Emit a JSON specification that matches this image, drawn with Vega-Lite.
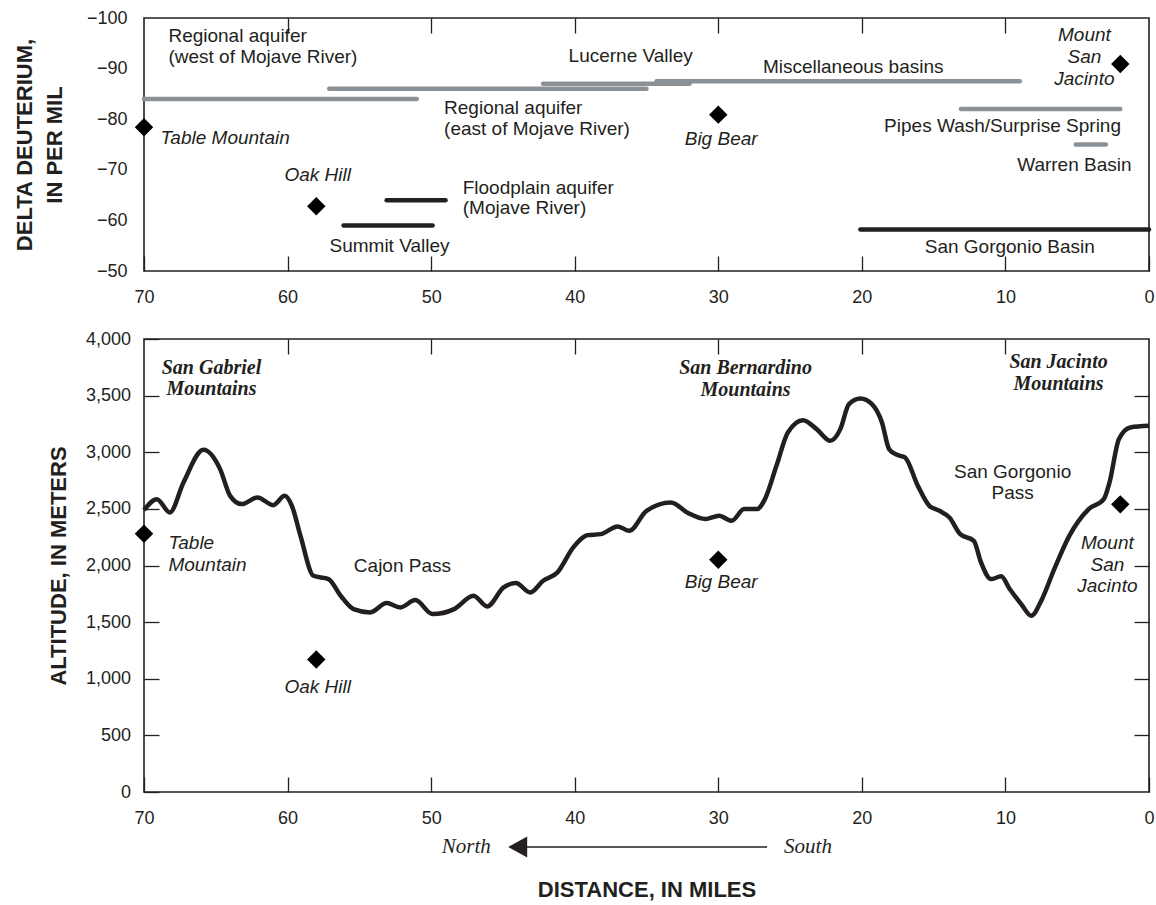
{
  "$schema": "https://vega.github.io/schema/vega-lite/v6.json",
  "padding": {"left": 12, "top": 8, "right": 0, "bottom": 0},
  "background": "white",
  "spacing": 22,
  "config": {
    "view": {"stroke": "#231f20", "strokeWidth": 1.6},
    "axis": {
      "grid": false, "domain": false,
      "labelFont": "Liberation Sans", "labelFontSize": 18, "labelColor": "#231f20",
      "titleFont": "Liberation Sans", "titleFontSize": 22, "titleFontWeight": "bold", "titleColor": "#231f20",
      "tickColor": "#231f20", "tickWidth": 1.3, "labelFlush": false, "labelOverlap": false
    },
    "text": {"font": "Liberation Sans", "fontSize": 19, "fill": "#231f20"}
  },
  "datasets": {
    "segments": [
      {"unit": "Regional aquifer (west of Mojave River)", "from": 70, "to": 51, "dd": -84, "group": "regional"},
      {"unit": "Regional aquifer (east of Mojave River)", "from": 57.1, "to": 35, "dd": -86, "group": "regional"},
      {"unit": "Lucerne Valley", "from": 42.2, "to": 32, "dd": -87, "group": "regional"},
      {"unit": "Miscellaneous basins", "from": 34.3, "to": 9, "dd": -87.5, "group": "regional"},
      {"unit": "Pipes Wash/Surprise Spring", "from": 13.1, "to": 2, "dd": -82, "group": "regional"},
      {"unit": "Warren Basin", "from": 5.1, "to": 3, "dd": -75, "group": "regional"},
      {"unit": "Floodplain aquifer (Mojave River)", "from": 53.1, "to": 49, "dd": -64, "group": "local"},
      {"unit": "Summit Valley", "from": 56.1, "to": 49.9, "dd": -59, "group": "local"},
      {"unit": "San Gorgonio Basin", "from": 20.1, "to": 0, "dd": -58.2, "group": "local"}
    ],
    "sites": [
      {"site": "Table Mountain", "miles": 70, "dd": -78.4, "alt": 2280},
      {"site": "Oak Hill", "miles": 58, "dd": -62.8, "alt": 1170},
      {"site": "Big Bear", "miles": 30, "dd": -80.9, "alt": 2050},
      {"site": "Mount San Jacinto", "miles": 2, "dd": -90.9, "alt": 2540}
    ],
    "profile": [
      {"miles": 70, "alt": 2490}, {"miles": 69.1, "alt": 2586}, {"miles": 68.2, "alt": 2468},
      {"miles": 67.25, "alt": 2733}, {"miles": 65.86, "alt": 3021}, {"miles": 64.7, "alt": 2851},
      {"miles": 64.0, "alt": 2615}, {"miles": 63.2, "alt": 2542}, {"miles": 62.1, "alt": 2601},
      {"miles": 61.0, "alt": 2533}, {"miles": 60.2, "alt": 2615}, {"miles": 59.7, "alt": 2527},
      {"miles": 59.1, "alt": 2262}, {"miles": 58.2, "alt": 1909}, {"miles": 57.15, "alt": 1880},
      {"miles": 56.3, "alt": 1733}, {"miles": 55.4, "alt": 1615}, {"miles": 54.25, "alt": 1586},
      {"miles": 53.1, "alt": 1668}, {"miles": 52.15, "alt": 1630}, {"miles": 51.1, "alt": 1695},
      {"miles": 49.9, "alt": 1571}, {"miles": 48.4, "alt": 1615}, {"miles": 47.05, "alt": 1733},
      {"miles": 46.1, "alt": 1639}, {"miles": 44.95, "alt": 1807}, {"miles": 44.1, "alt": 1845},
      {"miles": 43.1, "alt": 1762}, {"miles": 42.2, "alt": 1865}, {"miles": 41.2, "alt": 1939},
      {"miles": 40.1, "alt": 2160}, {"miles": 39.1, "alt": 2268}, {"miles": 38.2, "alt": 2277},
      {"miles": 37.0, "alt": 2345}, {"miles": 36.2, "alt": 2306}, {"miles": 35.0, "alt": 2483},
      {"miles": 33.3, "alt": 2557}, {"miles": 32.1, "alt": 2463}, {"miles": 30.9, "alt": 2410},
      {"miles": 29.95, "alt": 2439}, {"miles": 29.07, "alt": 2395}, {"miles": 28.2, "alt": 2498},
      {"miles": 27.3, "alt": 2498}, {"miles": 26.75, "alt": 2586}, {"miles": 25.95, "alt": 2880},
      {"miles": 25.15, "alt": 3175}, {"miles": 24.1, "alt": 3283}, {"miles": 23.15, "alt": 3204},
      {"miles": 22.2, "alt": 3101}, {"miles": 21.5, "alt": 3204}, {"miles": 20.9, "alt": 3425},
      {"miles": 20.1, "alt": 3475}, {"miles": 19.3, "alt": 3425}, {"miles": 18.6, "alt": 3263},
      {"miles": 18.1, "alt": 3027}, {"miles": 17.55, "alt": 2977}, {"miles": 17.0, "alt": 2954},
      {"miles": 16.1, "alt": 2703}, {"miles": 15.3, "alt": 2527}, {"miles": 14.6, "alt": 2483},
      {"miles": 13.9, "alt": 2424}, {"miles": 13.15, "alt": 2277}, {"miles": 12.2, "alt": 2218},
      {"miles": 11.7, "alt": 2027}, {"miles": 11.0, "alt": 1880}, {"miles": 10.3, "alt": 1904},
      {"miles": 9.7, "alt": 1792}, {"miles": 8.9, "alt": 1659}, {"miles": 8.2, "alt": 1556},
      {"miles": 7.5, "alt": 1690}, {"miles": 6.6, "alt": 1968}, {"miles": 5.55, "alt": 2262},
      {"miles": 4.2, "alt": 2498}, {"miles": 3.15, "alt": 2586}, {"miles": 2.75, "alt": 2733},
      {"miles": 2.1, "alt": 3115}, {"miles": 1.3, "alt": 3219}, {"miles": 0, "alt": 3233}
    ],
    "topLabelsLeft": [
      {"label": "Regional aquifer\n(west of Mojave River)", "miles": 68.3, "dd": -96.36},
      {"label": "Regional aquifer\n(east of Mojave River)", "miles": 49.1, "dd": -82.19},
      {"label": "Floodplain aquifer\n(Mojave River)", "miles": 47.8, "dd": -66.48}
    ],
    "topLabelsCenter": [
      {"label": "Lucerne Valley", "miles": 36.1, "dd": -92.4},
      {"label": "Miscellaneous basins", "miles": 20.6, "dd": -90.4},
      {"label": "Pipes Wash/Surprise Spring", "miles": 10.2, "dd": -78.6},
      {"label": "Warren Basin", "miles": 5.2, "dd": -71},
      {"label": "San Gorgonio Basin", "miles": 9.7, "dd": -54.7},
      {"label": "Summit Valley", "miles": 52.9, "dd": -54.9}
    ],
    "topLabelsItalic": [
      {"label": "Table Mountain", "miles": 64.35, "dd": -76.3},
      {"label": "Oak Hill", "miles": 57.9, "dd": -68.9},
      {"label": "Big Bear", "miles": 29.8, "dd": -76.1},
      {"label": "Mount\nSan\nJacinto", "miles": 4.5, "dd": -96.56}
    ],
    "ranges": [
      {"label": "San Gabriel\nMountains", "miles": 65.3, "alt": 3748},
      {"label": "San Bernardino\nMountains", "miles": 28.1, "alt": 3742},
      {"label": "San Jacinto\nMountains", "miles": 6.3, "alt": 3793}
    ],
    "bottomItalicLeft": [
      {"label": "Table\nMountain", "miles": 68.3, "alt": 2198}
    ],
    "bottomItalicCenter": [
      {"label": "Oak Hill", "miles": 57.9, "alt": 924},
      {"label": "Big Bear", "miles": 29.8, "alt": 1851},
      {"label": "Mount\nSan\nJacinto", "miles": 2.9, "alt": 2198}
    ],
    "bottomCenter": [
      {"label": "Cajon Pass", "miles": 52.0, "alt": 1997},
      {"label": "San Gorgonio\nPass", "miles": 9.5, "alt": 2827}
    ],
    "directions": [
      {"label": "North", "miles": 47.55, "alt": -485},
      {"label": "South", "miles": 23.75, "alt": -485}
    ],
    "arrow": [
      {"from": 43.5, "to": 26.6, "alt": -485}
    ],
    "arrowHead": [
      {"miles": 43.97, "alt": -485}
    ]
  },
  "vconcat": [
    {
      "width": 1005,
      "height": 253,
      "layer": [
        {
          "data": {"name": "segments"},
          "mark": {"type": "rule", "strokeWidth": 4.5, "strokeCap": "round"},
          "encoding": {
            "x": {"field": "from", "type": "quantitative",
                  "scale": {"domain": [0, 70], "reverse": true, "nice": false, "zero": false},
                  "axis": {"orient": "bottom", "values": [0, 10, 20, 30, 40, 50, 60, 70], "tickSize": -15, "labelPadding": 32, "title": null}},
            "x2": {"field": "to"},
            "y": {"field": "dd", "type": "quantitative",
                  "scale": {"domain": [-100, -50], "reverse": true, "nice": false, "zero": false},
                  "axis": {"orient": "left", "values": [-100, -90, -80, -70, -60, -50], "tickSize": 0, "labelPadding": 17,
                           "title": ["DELTA DEUTERIUM,", "IN PER MIL"], "titlePadding": 20, "titleLineHeight": 30}},
            "color": {"field": "group", "type": "nominal",
                      "scale": {"domain": ["regional", "local"], "range": ["#8a9298", "#231f20"]}, "legend": null}
          }
        },
        {
          "data": {"name": "sites"},
          "mark": {"type": "point", "shape": "diamond", "filled": true, "size": 340, "color": "#000000", "opacity": 1},
          "encoding": {
            "x": {"field": "miles", "type": "quantitative",
                  "scale": {"domain": [0, 70], "reverse": true, "nice": false, "zero": false},
                  "axis": {"orient": "top", "values": [10, 20, 30, 40, 50, 60], "labels": false, "tickSize": -15, "title": null}},
            "y": {"field": "dd", "type": "quantitative",
                  "scale": {"domain": [-100, -50], "reverse": true, "nice": false, "zero": false},
                  "axis": {"orient": "right", "values": [-90], "labels": false, "tickSize": 0, "title": null}}
          }
        },
        {
          "data": {"name": "topLabelsLeft"},
          "mark": {"type": "text", "align": "left", "baseline": "middle", "lineBreak": "\n", "lineHeight": 20.7},
          "encoding": {
            "x": {"field": "miles", "type": "quantitative", "scale": {"domain": [0, 70], "reverse": true, "nice": false, "zero": false}, "axis": null},
            "y": {"field": "dd", "type": "quantitative", "scale": {"domain": [-100, -50], "reverse": true, "nice": false, "zero": false}, "axis": null},
            "text": {"field": "label"}
          }
        },
        {
          "data": {"name": "topLabelsCenter"},
          "mark": {"type": "text", "align": "center", "baseline": "middle"},
          "encoding": {
            "x": {"field": "miles", "type": "quantitative", "scale": {"domain": [0, 70], "reverse": true, "nice": false, "zero": false}, "axis": null},
            "y": {"field": "dd", "type": "quantitative", "scale": {"domain": [-100, -50], "reverse": true, "nice": false, "zero": false}, "axis": null},
            "text": {"field": "label"}
          }
        },
        {
          "data": {"name": "topLabelsItalic"},
          "mark": {"type": "text", "align": "center", "baseline": "middle", "fontStyle": "italic", "lineBreak": "\n", "lineHeight": 21.8},
          "encoding": {
            "x": {"field": "miles", "type": "quantitative", "scale": {"domain": [0, 70], "reverse": true, "nice": false, "zero": false}, "axis": null},
            "y": {"field": "dd", "type": "quantitative", "scale": {"domain": [-100, -50], "reverse": true, "nice": false, "zero": false}, "axis": null},
            "text": {"field": "label"}
          }
        }
      ]
    },
    {
      "width": 1005,
      "height": 453,
      "layer": [
        {
          "data": {"name": "profile"},
          "mark": {"type": "line", "color": "#231f20", "strokeWidth": 4.5, "interpolate": "monotone", "strokeJoin": "round"},
          "encoding": {
            "x": {"field": "miles", "type": "quantitative",
                  "scale": {"domain": [0, 70], "reverse": true, "nice": false, "zero": false},
                  "axis": {"orient": "bottom", "values": [0, 10, 20, 30, 40, 50, 60, 70], "tickSize": -15, "labelPadding": 32,
                           "title": "DISTANCE, IN MILES", "titlePadding": 52}},
            "y": {"field": "alt", "type": "quantitative",
                  "scale": {"domain": [0, 4000], "nice": false, "zero": false},
                  "axis": {"orient": "left", "values": [0, 500, 1000, 1500, 2000, 2500, 3000, 3500, 4000], "format": ",d",
                           "tickSize": -15, "labelPadding": 28.5, "title": "ALTITUDE, IN METERS", "titlePadding": 15}}
          }
        },
        {
          "data": {"name": "sites"},
          "mark": {"type": "point", "shape": "diamond", "filled": true, "size": 340, "color": "#000000", "opacity": 1},
          "encoding": {
            "x": {"field": "miles", "type": "quantitative",
                  "scale": {"domain": [0, 70], "reverse": true, "nice": false, "zero": false},
                  "axis": {"orient": "top", "values": [10, 20, 30, 40, 50, 60], "labels": false, "tickSize": -15, "title": null}},
            "y": {"field": "alt", "type": "quantitative",
                  "scale": {"domain": [0, 4000], "nice": false, "zero": false},
                  "axis": {"orient": "right", "values": [500, 1000, 1500, 2000, 2500, 3000, 3500], "labels": false, "tickSize": -15, "title": null}}
          }
        },
        {
          "data": {"name": "ranges"},
          "mark": {"type": "text", "align": "center", "baseline": "middle", "font": "Liberation Serif", "fontSize": 20, "fontWeight": "bold", "fontStyle": "italic", "lineBreak": "\n", "lineHeight": 21.5},
          "encoding": {
            "x": {"field": "miles", "type": "quantitative", "scale": {"domain": [0, 70], "reverse": true, "nice": false, "zero": false}, "axis": null},
            "y": {"field": "alt", "type": "quantitative", "scale": {"domain": [0, 4000], "nice": false, "zero": false}, "axis": null},
            "text": {"field": "label"}
          }
        },
        {
          "data": {"name": "bottomItalicLeft"},
          "mark": {"type": "text", "align": "left", "baseline": "middle", "fontStyle": "italic", "lineBreak": "\n", "lineHeight": 22},
          "encoding": {
            "x": {"field": "miles", "type": "quantitative", "scale": {"domain": [0, 70], "reverse": true, "nice": false, "zero": false}, "axis": null},
            "y": {"field": "alt", "type": "quantitative", "scale": {"domain": [0, 4000], "nice": false, "zero": false}, "axis": null},
            "text": {"field": "label"}
          }
        },
        {
          "data": {"name": "bottomItalicCenter"},
          "mark": {"type": "text", "align": "center", "baseline": "middle", "fontStyle": "italic", "lineBreak": "\n", "lineHeight": 21.5},
          "encoding": {
            "x": {"field": "miles", "type": "quantitative", "scale": {"domain": [0, 70], "reverse": true, "nice": false, "zero": false}, "axis": null},
            "y": {"field": "alt", "type": "quantitative", "scale": {"domain": [0, 4000], "nice": false, "zero": false}, "axis": null},
            "text": {"field": "label"}
          }
        },
        {
          "data": {"name": "bottomCenter"},
          "mark": {"type": "text", "align": "center", "baseline": "middle", "lineBreak": "\n", "lineHeight": 21.3},
          "encoding": {
            "x": {"field": "miles", "type": "quantitative", "scale": {"domain": [0, 70], "reverse": true, "nice": false, "zero": false}, "axis": null},
            "y": {"field": "alt", "type": "quantitative", "scale": {"domain": [0, 4000], "nice": false, "zero": false}, "axis": null},
            "text": {"field": "label"}
          }
        },
        {
          "data": {"name": "directions"},
          "mark": {"type": "text", "align": "center", "baseline": "middle", "font": "Liberation Serif", "fontSize": 21, "fontStyle": "italic"},
          "encoding": {
            "x": {"field": "miles", "type": "quantitative", "scale": {"domain": [0, 70], "reverse": true, "nice": false, "zero": false}, "axis": null},
            "y": {"field": "alt", "type": "quantitative", "scale": {"domain": [0, 4000], "nice": false, "zero": false}, "axis": null},
            "text": {"field": "label"}
          }
        },
        {
          "data": {"name": "arrow"},
          "mark": {"type": "rule", "color": "#231f20", "strokeWidth": 1.5},
          "encoding": {
            "x": {"field": "from", "type": "quantitative", "scale": {"domain": [0, 70], "reverse": true, "nice": false, "zero": false}, "axis": null},
            "x2": {"field": "to"},
            "y": {"field": "alt", "type": "quantitative", "scale": {"domain": [0, 4000], "nice": false, "zero": false}, "axis": null}
          }
        },
        {
          "data": {"name": "arrowHead"},
          "mark": {"type": "point", "shape": "M-1,0L1,-1.1L1,1.1Z", "size": 361, "filled": true, "color": "#231f20", "opacity": 1},
          "encoding": {
            "x": {"field": "miles", "type": "quantitative", "scale": {"domain": [0, 70], "reverse": true, "nice": false, "zero": false}, "axis": null},
            "y": {"field": "alt", "type": "quantitative", "scale": {"domain": [0, 4000], "nice": false, "zero": false}, "axis": null}
          }
        }
      ]
    }
  ]
}
